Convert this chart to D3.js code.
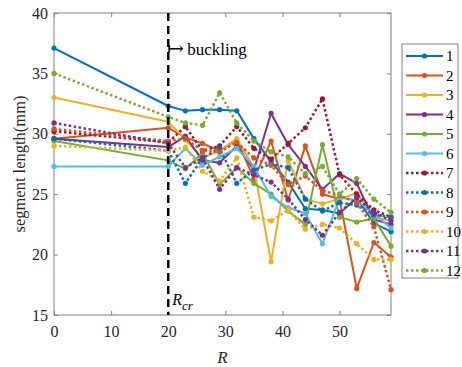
<!DOCTYPE html>
<html>
<head>
<meta charset="utf-8">
<script src="https://cdn.jsdelivr.net/npm/d3@7"></script>
<style>
  body { margin: 0; background: #fff; }
  svg text { font-family: "Liberation Serif", "DejaVu Serif", serif; }
</style>
</head>
<body>
<div id="chart"></div>
<script>
const rValues = [0, 20, 23, 26, 29, 32, 35, 38, 41, 44, 47, 50, 53, 56, 59];

const seriesNames = ["1", "2", "3", "4", "5", "6", "7", "8", "9", "10", "11", "12"];

const s1 = [37.1, 32.3, 31.9, 32.0, 32.0, 31.9, 29.6, 27.7, 26.0, 23.8, 23.7, 23.4, 24.7, 22.6, 21.9];
const s2 = [29.6, 30.5, 29.7, 29.2, 28.6, 29.5, 26.3, 29.4, 24.5, 29.0, 25.0, 24.6, 17.2, 21.0, 19.8];
const s3 = [33.0, 31.0, 29.5, 28.0, 28.6, 29.6, 27.2, 19.4, 27.8, 24.6, 24.2, 24.6, 25.1, 23.1, 22.8];
const s4 = [29.6, 28.9, 29.8, 27.8, 27.6, 29.0, 27.0, 31.7, 29.1, 27.3, 25.4, 26.7, 25.9, 22.9, 22.5];
const s5 = [29.4, 27.8, 27.1, 28.4, 25.8, 27.2, 25.9, 25.0, 23.6, 22.5, 29.1, 23.1, 22.7, 23.0, 20.7];
const s6 = [27.3, 27.3, 28.8, 27.4, 28.1, 28.8, 27.3, 24.8, 23.9, 23.4, 20.9, 24.7, 24.5, 23.4, 22.2];
const s7 = [30.2, 29.3, 30.6, 28.6, 29.0, 30.6, 28.8, 27.9, 29.2, 30.5, 32.9, 26.6, 25.0, 23.7, 23.1];
const s8 = [29.6, 28.6, 25.9, 28.0, 28.8, 25.9, 27.0, 27.5, 27.2, 24.6, 23.6, 24.3, 24.1, 23.3, 23.1];
const s9 = [30.4, 29.4, 29.6, 28.6, 28.5, 29.3, 28.0, 27.4, 25.8, 26.5, 25.3, 24.9, 24.3, 22.3, 17.1];
const s10 = [29.0, 28.6, 28.9, 26.9, 26.1, 28.0, 23.1, 22.8, 23.7, 22.1, 22.5, 22.2, 20.9, 19.6, 19.6];
const s11 = [30.9, 29.2, 27.2, 28.0, 25.4, 27.2, 26.6, 26.0, 24.6, 22.9, 21.6, 23.5, 24.7, 23.5, 22.8];
const s12 = [35.0, 31.4, 30.9, 30.7, 33.4, 30.9, 29.4, 28.5, 28.1, 26.7, 27.3, 25.0, 26.3, 24.6, 23.5];

const seriesValues = [s1, s2, s3, s4, s5, s6, s7, s8, s9, s10, s11, s12];

const xTicks = [0, 10, 20, 30, 40, 50];
const yTicks = [15, 20, 25, 30, 35, 40];
const rCritical = 20;

const colors = ["#0072BD", "#D95319", "#EDB120", "#7E2F8E", "#77AC30", "#4DBEEE", "#A2142F"];

const width = 462, height = 367;
const margin = { top: 13, right: 71, bottom: 52, left: 54 };
const innerW = width - margin.left - margin.right;
const innerH = height - margin.top - margin.bottom;
const serif = '"Liberation Serif", "DejaVu Serif", serif';

const svg = d3.select("#chart").append("svg")
  .attr("width", width)
  .attr("height", height);

const g = svg.append("g")
  .attr("transform", `translate(${margin.left},${margin.top})`);

const x = d3.scaleLinear().domain([0, 59]).range([0, innerW]);
const y = d3.scaleLinear().domain([15, 40]).range([innerH, 0]);

const axisColor = "#808080";
const tickLen = 4;

// ticks point inwards, matlab style
const styleAxis = sel => {
  sel.attr("font-family", serif);
  sel.select(".domain").remove();
  sel.selectAll(".tick line").attr("stroke", axisColor);
  sel.selectAll(".tick text")
    .attr("fill", "#262626")
    .style("font-family", serif)
    .style("font-size", "16px");
};

g.append("g")
  .attr("transform", `translate(0,${innerH})`)
  .call(d3.axisBottom(x).tickValues(xTicks).tickSizeInner(-tickLen).tickPadding(11))
  .call(styleAxis);

g.append("g")
  .call(d3.axisTop(x).tickValues(xTicks).tickSizeInner(-tickLen).tickFormat(""))
  .call(styleAxis);

g.append("g")
  .call(d3.axisLeft(y).tickValues(yTicks).tickSizeInner(-tickLen).tickPadding(6))
  .call(styleAxis);

g.append("g")
  .attr("transform", `translate(${innerW},0)`)
  .call(d3.axisRight(y).tickValues(yTicks).tickSizeInner(-tickLen).tickFormat(""))
  .call(styleAxis);

g.append("rect")
  .attr("width", innerW)
  .attr("height", innerH)
  .attr("fill", "none")
  .attr("stroke", axisColor)
  .attr("stroke-width", 1);

// series
const line = d3.line()
  .x((d, i) => x(rValues[i]))
  .y(d => y(d));

seriesValues.forEach((vals, i) => {
  const color = colors[i % colors.length];
  const dotted = i >= 6;
  const sg = g.append("g");
  sg.append("path")
    .datum(vals)
    .attr("d", line)
    .attr("fill", "none")
    .attr("stroke", color)
    .attr("stroke-width", dotted ? 2.5 : 2)
    .attr("stroke-dasharray", dotted ? "2.5,2.5" : null)
    .attr("stroke-linejoin", "round");
  sg.selectAll("circle")
    .data(vals)
    .join("circle")
    .attr("cx", (d, j) => x(rValues[j]))
    .attr("cy", d => y(d))
    .attr("r", 2.6)
    .attr("fill", color);
});

// buckling threshold
g.append("line")
  .attr("x1", x(rCritical)).attr("x2", x(rCritical))
  .attr("y1", 0).attr("y2", innerH)
  .attr("stroke", "#000")
  .attr("stroke-width", 2.5)
  .attr("stroke-dasharray", "8,5");

g.append("text")
  .attr("x", x(rCritical) - 1)
  .attr("y", 42)
  .style("font-size", "20px")
  .attr("fill", "#000")
  .text("\u21A6");

g.append("text")
  .attr("x", x(rCritical) + 19)
  .attr("y", 42)
  .style("font-size", "17px")
  .attr("fill", "#000")
  .text("buckling");

const rcr = g.append("text")
  .attr("x", x(rCritical) + 4)
  .attr("y", innerH - 10)
  .style("font-size", "16px")
  .style("font-style", "italic")
  .attr("fill", "#000");
rcr.append("tspan").text("R");
rcr.append("tspan").attr("dy", 5).style("font-size", "13px").text("cr");

// axis titles
svg.append("text")
  .attr("x", margin.left + x(29.5))
  .attr("y", 363)
  .attr("text-anchor", "middle")
  .style("font-size", "17px")
  .style("font-style", "italic")
  .attr("fill", "#262626")
  .text("R");

svg.append("text")
  .attr("transform", `translate(25,${margin.top + innerH / 2}) rotate(-90)`)
  .attr("text-anchor", "middle")
  .style("font-size", "16.5px")
  .attr("fill", "#262626")
  .text("segment length(mm)");

// legend
const lg = svg.append("g").attr("transform", "translate(402,44)");
const rowH = 19.5;
lg.append("rect")
  .attr("width", 56)
  .attr("height", 234)
  .attr("fill", "#fff")
  .attr("stroke", axisColor);

seriesNames.forEach((name, i) => {
  const color = colors[i % colors.length];
  const dotted = i >= 6;
  const cy = 12 + i * rowH;
  lg.append("line")
    .attr("x1", 4).attr("x2", 41)
    .attr("y1", cy).attr("y2", cy)
    .attr("stroke", color)
    .attr("stroke-width", dotted ? 2.5 : 2)
    .attr("stroke-dasharray", dotted ? "2.5,2.5" : null);
  lg.append("circle")
    .attr("cx", 22.5).attr("cy", cy)
    .attr("r", 2.6)
    .attr("fill", color);
  lg.append("text")
    .attr("x", 44)
    .attr("y", cy + 5)
    .style("font-size", "15px")
    .attr("fill", "#000")
    .text(name);
});
</script>
</body>
</html>
